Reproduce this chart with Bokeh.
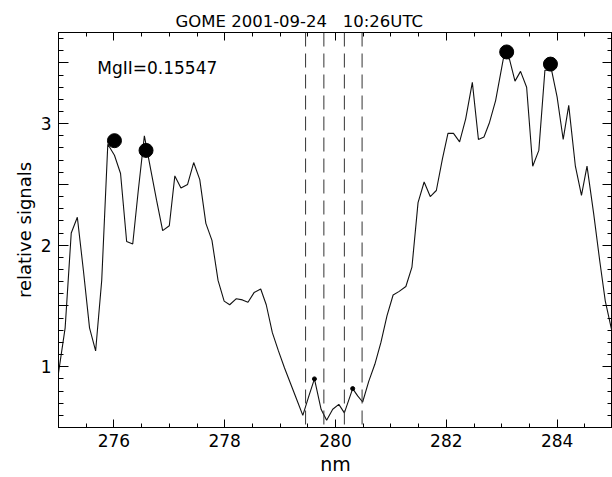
from bokeh.plotting import figure
from bokeh.embed import file_html
from bokeh.resources import INLINE
from bokeh.models import (LinearAxis, FixedTicker, Range1d, Label, Span, Title)

# ---------------- data ----------------
wavelength = [275.00, 275.12, 275.23, 275.34, 275.45, 275.56, 275.67, 275.78, 275.89, 276.01,
              276.12, 276.23, 276.34, 276.44, 276.55, 276.67, 276.77, 276.88, 277.00, 277.10,
              277.21, 277.33, 277.44, 277.55, 277.66, 277.77, 277.88, 277.99, 278.09, 278.21,
              278.32, 278.42, 278.53, 278.65, 278.75, 278.86, 278.97, 279.08, 279.19, 279.30,
              279.41, 279.52, 279.62, 279.74, 279.84, 279.95, 280.06, 280.16, 280.31, 280.40,
              280.49, 280.60, 280.71, 280.82, 280.93, 281.04, 281.15, 281.27, 281.38, 281.49,
              281.60, 281.71, 281.82, 281.93, 282.03, 282.13, 282.24, 282.35, 282.47, 282.58,
              282.68, 282.78, 282.89, 283.04, 283.14, 283.24, 283.34, 283.45, 283.56, 283.67,
              283.78, 283.90, 284.00, 284.11, 284.21, 284.33, 284.44, 284.54, 284.66, 284.77,
              284.87, 285.00]
signal = [0.95, 1.32, 2.10, 2.23, 1.79, 1.32, 1.13, 1.71, 2.83, 2.74,
          2.59, 2.03, 2.01, 2.45, 2.90, 2.61, 2.37, 2.12, 2.16, 2.57,
          2.47, 2.50, 2.68, 2.54, 2.18, 2.04, 1.71, 1.54, 1.51, 1.56,
          1.55, 1.53, 1.61, 1.64, 1.51, 1.28, 1.13, 0.99, 0.86, 0.73,
          0.60, 0.76, 0.90, 0.65, 0.56, 0.65, 0.69, 0.62, 0.82, 0.76,
          0.71, 0.88, 1.02, 1.20, 1.42, 1.59, 1.62, 1.66, 1.82, 2.35,
          2.52, 2.40, 2.45, 2.71, 2.92, 2.92, 2.85, 3.04, 3.34, 2.87,
          2.89, 3.01, 3.19, 3.56, 3.53, 3.35, 3.43, 3.30, 2.65, 2.78,
          3.44, 3.44, 3.22, 2.87, 3.15, 2.65, 2.41, 2.65, 2.26, 1.87,
          1.54, 1.27]

wing_x = [276.01, 276.58, 283.09, 283.88]
wing_y = [2.86, 2.78, 3.59, 3.49]
core_x = [279.62, 280.31]
core_y = [0.90, 0.82]
dash_x = [279.46, 279.79, 280.16, 280.48]

x_major = [276, 278, 280, 282, 284]
x_minor = [275.5, 276.5, 277, 277.5, 278.5, 279, 279.5, 280.5, 281, 281.5,
           282.5, 283, 283.5, 284.5]
x_all_minor = [275.5 + 0.5 * i for i in range(20)]
y_major = [1, 2, 3]
y_half = [0.5, 1.5, 2.5, 3.5]
y_minor = [0.6, 0.7, 0.8, 0.9, 1.1, 1.2, 1.3, 1.4, 1.6, 1.7, 1.8, 1.9,
           2.1, 2.2, 2.3, 2.4, 2.6, 2.7, 2.8, 2.9, 3.1, 3.2, 3.3, 3.4, 3.6, 3.7]

# gap of three spaces kept with no-break spaces (SVG collapses plain runs)
title_text = "GOME 2001-09-24\u00a0\u00a0\u00a010:26UTC"
mg_text = "MgII=0.15547"

FONT = "DejaVu Sans"

p = figure(frame_width=554, frame_height=395, output_backend="svg", toolbar_location=None,
           x_range=Range1d(275, 285), y_range=Range1d(0.5, 3.75),
           x_axis_location=None, y_axis_location=None,
           min_border_left=58, min_border_top=32, min_border_bottom=50, min_border_right=0)
p.background_fill_color = "white"
p.border_fill_color = "white"
p.xgrid.visible = False
p.ygrid.visible = False
p.outline_line_color = "black"
p.outline_line_width = 1

p.title = Title(text=title_text, align="left", offset=117, text_font=FONT,
                text_font_size="16.5px", text_font_style="normal", text_color="black",
                standoff=3)


def base(ax):
    ax.major_tick_out = 0
    ax.minor_tick_out = 0
    ax.axis_line_color = "black"
    ax.major_tick_line_color = "black"
    ax.minor_tick_line_color = "black"
    ax.major_label_text_font = FONT
    ax.major_label_text_color = "black"
    ax.axis_label_text_font = FONT
    ax.axis_label_text_font_style = "normal"
    ax.axis_label_text_color = "black"


def tick_only(ticks, length, side):
    ax = LinearAxis(ticker=FixedTicker(ticks=[], minor_ticks=ticks))
    base(ax)
    ax.minor_tick_in = length
    ax.major_label_standoff = 0
    p.add_layout(ax, side)


# zero-size tick-only axes first, so they hug the frame
tick_only(y_half, 10, "left")
tick_only(x_major, 8, "above")
tick_only(x_all_minor, 4, "above")
tick_only(y_major + y_half, 10, "right")
tick_only(y_minor, 5, "right")

bottom = LinearAxis(ticker=FixedTicker(ticks=x_major, minor_ticks=x_minor), axis_label="nm")
base(bottom)
bottom.major_tick_in = 8
bottom.minor_tick_in = 4
bottom.major_label_text_font_size = "17px"
bottom.major_label_standoff = 6
bottom.axis_label_text_font_size = "19px"
bottom.axis_label_standoff = 3
p.add_layout(bottom, "below")

left = LinearAxis(ticker=FixedTicker(ticks=y_major, minor_ticks=y_minor),
                  axis_label="relative signals")
base(left)
left.major_tick_in = 10
left.minor_tick_in = 5
left.major_label_text_font_size = "17px"
left.major_label_standoff = 7
left.axis_label_text_font_size = "18px"
left.axis_label_standoff = 3
p.add_layout(left, "left")

for xv in dash_x:
    p.add_layout(Span(location=xv, dimension="height", line_color="#333333",
                      line_width=1, line_dash="14 7"))

p.line(wavelength, signal, line_color="#111111", line_width=1.1)
p.scatter(wing_x, wing_y, size=14, fill_color="black", line_color="black")
p.scatter(core_x, core_y, size=4, fill_color="black", line_color="black")

p.add_layout(Label(x=275.70, y=3.46, text=mg_text, text_font=FONT, text_font_size="17px",
                   text_color="black", text_baseline="alphabetic"))

open("out.html", "w").write(file_html(p, INLINE))
